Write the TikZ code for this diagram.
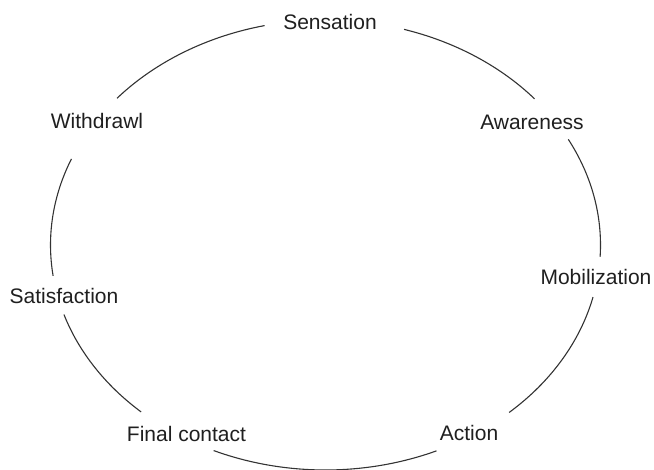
\documentclass[tikz,border=0pt]{standalone}
\usepackage{fontspec}
\setmainfont{Liberation Sans}
\usetikzlibrary{calc}
\begin{document}
\begin{tikzpicture}[
  lbl/.style={inner sep=0pt, anchor=base, text=black!88, font=\fontsize{21}{24}\selectfont},
  cyc/.style={draw=black!80, line width=1.1pt}
]
\useasboundingbox (0pt,0pt) rectangle (654pt,470pt);
\coordinate (C) at (325.5pt,225pt);
% labels
\node[lbl] (sen) at (330pt,440pt) {Sensation};
\node[lbl] (awa) at (532pt,340pt) {Awareness};
\node[lbl] (mob) at (596pt,185pt) {Mobilization};
\node[lbl] (act) at (469pt,29pt) {Action};
\node[lbl] (fin) at (186.5pt,28pt) {Final contact};
\node[lbl] (sat) at (64pt,166pt) {Satisfaction};
\node[lbl] (wit) at (97pt,341pt) {Withdrawl};
% arc start points on the ellipse
\coordinate (s1) at ($(C)+(102.8:275pt and 225pt)$);
\coordinate (s2) at ($(C)+(73.4:275pt and 225pt)$);
\coordinate (s3) at ($(C)+(28.0:275pt and 225pt)$);
\coordinate (s4) at ($(C)+(-13.4:275pt and 225pt)$);
\coordinate (s5) at ($(C)+(-66.2:275pt and 225pt)$);
\coordinate (s6) at ($(C)+(-132.1:275pt and 225pt)$);
\coordinate (s7) at ($(C)+(-172.1:275pt and 225pt)$);
% arcs
\draw[cyc] (s1) arc[start angle=102.8, end angle=139.3, x radius=275pt, y radius=225pt];
\draw[cyc] (s2) arc[start angle=73.4, end angle=40.5, x radius=275pt, y radius=225pt];
\draw[cyc] (s3) arc[start angle=28.0, end angle=-3.0, x radius=275pt, y radius=225pt];
\draw[cyc] (s4) arc[start angle=-13.4, end angle=-48.1, x radius=275pt, y radius=225pt];
\draw[cyc] (s5) arc[start angle=-66.2, end angle=-114.0, x radius=275pt, y radius=225pt];
\draw[cyc] (s6) arc[start angle=-132.1, end angle=-162.0, x radius=275pt, y radius=225pt];
\draw[cyc] (s7) arc[start angle=-172.1, end angle=-202.5, x radius=275pt, y radius=225pt];
\end{tikzpicture}
\end{document}
